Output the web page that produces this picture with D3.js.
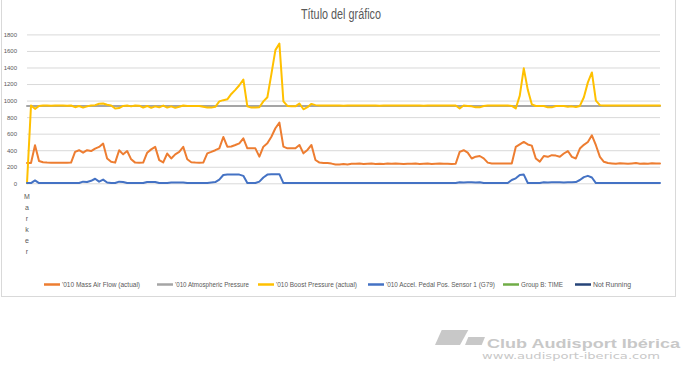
<!DOCTYPE html>
<html>
<head>
<meta charset="utf-8">
<script src="https://cdn.jsdelivr.net/npm/d3@7"></script>
<style>
  body { margin: 0; background: #fff; }
  svg { display: block; font-family: "Liberation Sans", Arial, sans-serif; }
</style>
</head>
<body>
<div id="chart"></div>
<script>
const chartTitle = "Título del gráfico";
const categories = ["Marker"];
const yTicks = [0, 200, 400, 600, 800, 1000, 1200, 1400, 1600, 1800];
const seriesNames = ["'010 Mass Air Flow (actual)", "'010 Atmospheric Pressure", "'010 Boost Pressure (actual)",
  "'010 Accel. Pedal Pos. Sensor 1 (G79)", "Group B: TIME", "Not Running"];
const seriesColors = ["#ed7d31", "#a5a5a5", "#ffc000", "#4472c4", "#70ad47", "#264478"];

const massAirFlow = [
  245, 245, 460, 270, 255, 250, 248, 248, 248, 248, 248, 250,
  380, 400, 370, 400, 390, 420, 440, 480, 300, 260, 250,
  400, 350, 390, 290, 250, 248, 250,
  370, 410, 440, 280, 252,
  360, 300, 350, 380, 440, 290,
  255, 250, 248, 250,
  362, 380, 400, 423, 560, 443, 445, 463, 483, 543, 423, 423, 423,
  322, 443, 483, 563, 665, 733,
  443, 423, 423, 423, 463, 362, 403, 463, 282,
  250, 245, 245, 238, 228, 228, 232, 228, 235,
  235, 238, 232, 236, 240, 234, 236, 232, 238, 235, 240, 236, 233, 237, 235, 239, 234, 236, 238, 232, 236, 240, 235, 237, 234, 236,
  380, 400, 370, 300, 322, 330, 302, 250, 240, 240, 240, 238, 238, 240,
  440, 470, 500, 470, 455, 300, 262, 330, 320, 340, 335, 320, 360, 390, 320, 300, 420, 465, 500, 580, 460, 320, 260, 245,
  240, 236, 242, 238, 235, 240, 245, 237, 240, 236, 242, 238, 240
];

const atmPressure = [
  935, 935, 935, 935, 935, 935, 935, 935, 935, 935, 935, 935, 935, 935, 935, 935, 935, 935, 935, 935,
  935, 935, 935, 935, 935, 935, 935, 935, 935, 935, 935, 935, 935, 935, 935, 935, 935, 935, 935, 935,
  935, 935, 935, 935, 935, 935, 935, 935, 935, 935, 935, 935, 935, 935, 935, 935, 935, 935, 935, 935,
  935, 935, 935, 935, 935, 935, 935, 935, 935, 935, 935, 935, 935, 935, 935, 935, 935, 935, 935, 935,
  935, 935, 935, 935, 935, 935, 935, 935, 935, 935, 935, 935, 935, 935, 935, 935, 935, 935, 935, 935,
  935, 935, 935, 935, 935, 935, 935, 935, 935, 935, 935, 935, 935, 935, 935, 935, 935, 935, 935, 935,
  935, 935, 935, 935, 935, 935, 935, 935, 935, 935, 935, 935, 935, 935, 935, 935, 935, 935, 935, 935,
  935, 935, 935, 935, 935, 935, 935, 935, 935, 935, 935, 935, 935, 935, 935, 935, 935, 935, 935
];

const boostPressure = [
  0,
  940, 900, 935, 940, 940, 938, 940, 940, 940, 938, 940, 920, 935, 915, 930, 940, 945, 962, 965, 950,
  940, 905, 910, 935, 940, 930, 940, 938, 915, 935, 912, 930, 918, 940, 915, 930, 912, 925, 940,
  935, 935, 935, 935, 925, 915, 915, 925, 990, 1005, 1015, 1080, 1130, 1185, 1255, 930, 915, 915, 920, 990,
  1040, 1320, 1610, 1690, 990, 935, 930, 930, 965, 895, 920, 960, 945,
  940, 940, 942, 940, 940, 940, 938, 940, 940, 940, 942, 940, 940, 940, 940, 938, 940, 940, 940, 940,
  942, 940, 940, 940, 940, 940, 938, 940, 940, 940, 940, 942, 940, 940, 940,
  905, 940, 935, 930, 918, 918, 935, 940, 940, 940, 940, 940, 940, 935,
  905, 1060, 1390, 1130, 955, 935, 935, 935, 918, 918, 935, 935, 935, 925, 930, 922, 935, 1040, 1220, 1340, 1000, 945,
  940, 940, 940, 940, 940, 940, 940, 940, 940, 940, 940, 940, 940, 940, 940
];

const pedalPos = [
  3, 3, 35, 3, 3, 3, 3, 3, 3, 3, 3, 3, 3, 3,
  20, 15, 30, 55, 20, 45, 10, 3, 3, 20, 15, 3, 3, 3, 3, 3,
  15, 15, 15, 3, 3, 3, 10, 10, 10, 10,
  3, 3, 3, 3, 3, 3, 10, 15, 45,
  100, 105, 105, 105, 105, 90, 3, 3, 3,
  20, 70, 105, 110, 110, 110,
  3, 3, 3, 3, 3, 3, 3, 3, 3, 3, 3, 3, 3, 3, 3, 3, 3, 3, 3, 3, 3, 3,
  3, 3, 3, 3, 3, 3, 3, 3, 3, 3, 3, 3, 3, 3, 3, 3, 3, 3, 3, 3, 3, 3,
  12, 10, 12, 14, 10, 12,
  3, 3, 3, 3, 3, 3, 3,
  40, 60, 100, 105, 3, 3, 3, 3,
  12, 10, 12, 14, 12, 10, 14, 12, 15,
  40, 75, 90, 70,
  3, 3, 3, 3, 3, 3, 3, 3, 3, 3, 3, 3, 3, 3, 3, 3, 3
];

const groupBTime = [];
const notRunning = [];

const W = 683, H = 372;
const plot = { left: 27, right: 660, top: 34.4, bottom: 183.3 };
// legend swatch positions and text widths, as measured on the original
const legendX = [44, 157, 258, 368, 503, 575];
const legendW = [78, 74, 81, 109, 42, 38];

const svg = d3.select("#chart").append("svg")
  .attr("width", W)
  .attr("height", H);

// chart area border
svg.append("rect")
  .attr("x", 1.5).attr("y", -1)
  .attr("width", 674).attr("height", 297.5)
  .attr("fill", "none")
  .attr("stroke", "#d9d9d9");

svg.append("text")
  .attr("x", 341).attr("y", 19)
  .attr("text-anchor", "middle")
  .attr("font-size", 14)
  .attr("textLength", 80)
  .attr("lengthAdjust", "spacingAndGlyphs")
  .attr("fill", "#595959")
  .text(chartTitle);

const y = d3.scaleLinear().domain([0, 1800]).range([plot.bottom, plot.top]);
const x = d3.scaleLinear().domain([0, massAirFlow.length - 1]).range([plot.left, plot.right]);

// gridlines + value labels
const yAxis = svg.append("g")
  .attr("transform", "translate(" + plot.left + ",0)")
  .call(d3.axisLeft(y).tickValues(yTicks).tickFormat(d3.format("d"))
    .tickSize(-(plot.right - plot.left)).tickPadding(10));
yAxis.attr("font-family", null);
yAxis.select(".domain").remove();
yAxis.selectAll("line").attr("stroke", "#d9d9d9");
yAxis.selectAll("text").attr("fill", "#595959").attr("font-size", 6);

// category label, one letter per line
svg.append("g").selectAll("text")
  .data(categories[0].split(""))
  .join("text")
  .attr("x", x(0))
  .attr("y", (d, i) => 199 + i * 11)
  .attr("text-anchor", "middle")
  .attr("font-size", 7)
  .attr("fill", "#595959")
  .text(d => d);

const allSeries = [massAirFlow, atmPressure, boostPressure, pedalPos, groupBTime, notRunning];
const line = d3.line()
  .x((d, i) => x(i))
  .y(d => y(d));

svg.append("g").selectAll("path")
  .data(allSeries)
  .join("path")
  .attr("d", d => d.length ? line(d) : null)
  .attr("fill", "none")
  .attr("stroke", (d, i) => seriesColors[i])
  .attr("stroke-width", 2)
  .attr("stroke-linejoin", "round")
  .attr("stroke-linecap", "round");

// legend
const items = svg.append("g").selectAll("g")
  .data(seriesNames)
  .join("g")
  .attr("transform", (d, i) => "translate(" + legendX[i] + ",0)");
items.append("line")
  .attr("x1", 0).attr("x2", 16)
  .attr("y1", 284.5).attr("y2", 284.5)
  .attr("stroke", (d, i) => seriesColors[i])
  .attr("stroke-width", 2.5);
items.append("text")
  .attr("x", 18).attr("y", 287)
  .attr("font-size", 7)
  .attr("textLength", (d, i) => legendW[i])
  .attr("lengthAdjust", "spacingAndGlyphs")
  .attr("fill", "#595959")
  .text(d => d);

// watermark
const mark = svg.append("g").attr("fill", "#c8c8c8");
mark.append("path").attr("d", "M441.7,330 L468.3,330 L460,345 L435,345 Z");
mark.append("path").attr("d", "M468.3,337 L485,337 L481.7,345 L465,345 Z");
mark.append("text")
  .attr("x", 487).attr("y", 347.5)
  .attr("font-weight", "bold")
  .attr("font-size", 13.5)
  .attr("textLength", 193)
  .attr("lengthAdjust", "spacingAndGlyphs")
  .text("Club Audisport Ibérica");
mark.append("text")
  .attr("x", 482).attr("y", 359)
  .attr("font-family", "DejaVu Sans, sans-serif")
  .attr("font-size", 9)
  .attr("textLength", 178)
  .attr("lengthAdjust", "spacingAndGlyphs")
  .text("www.audisport-iberica.com");
</script>
</body>
</html>
